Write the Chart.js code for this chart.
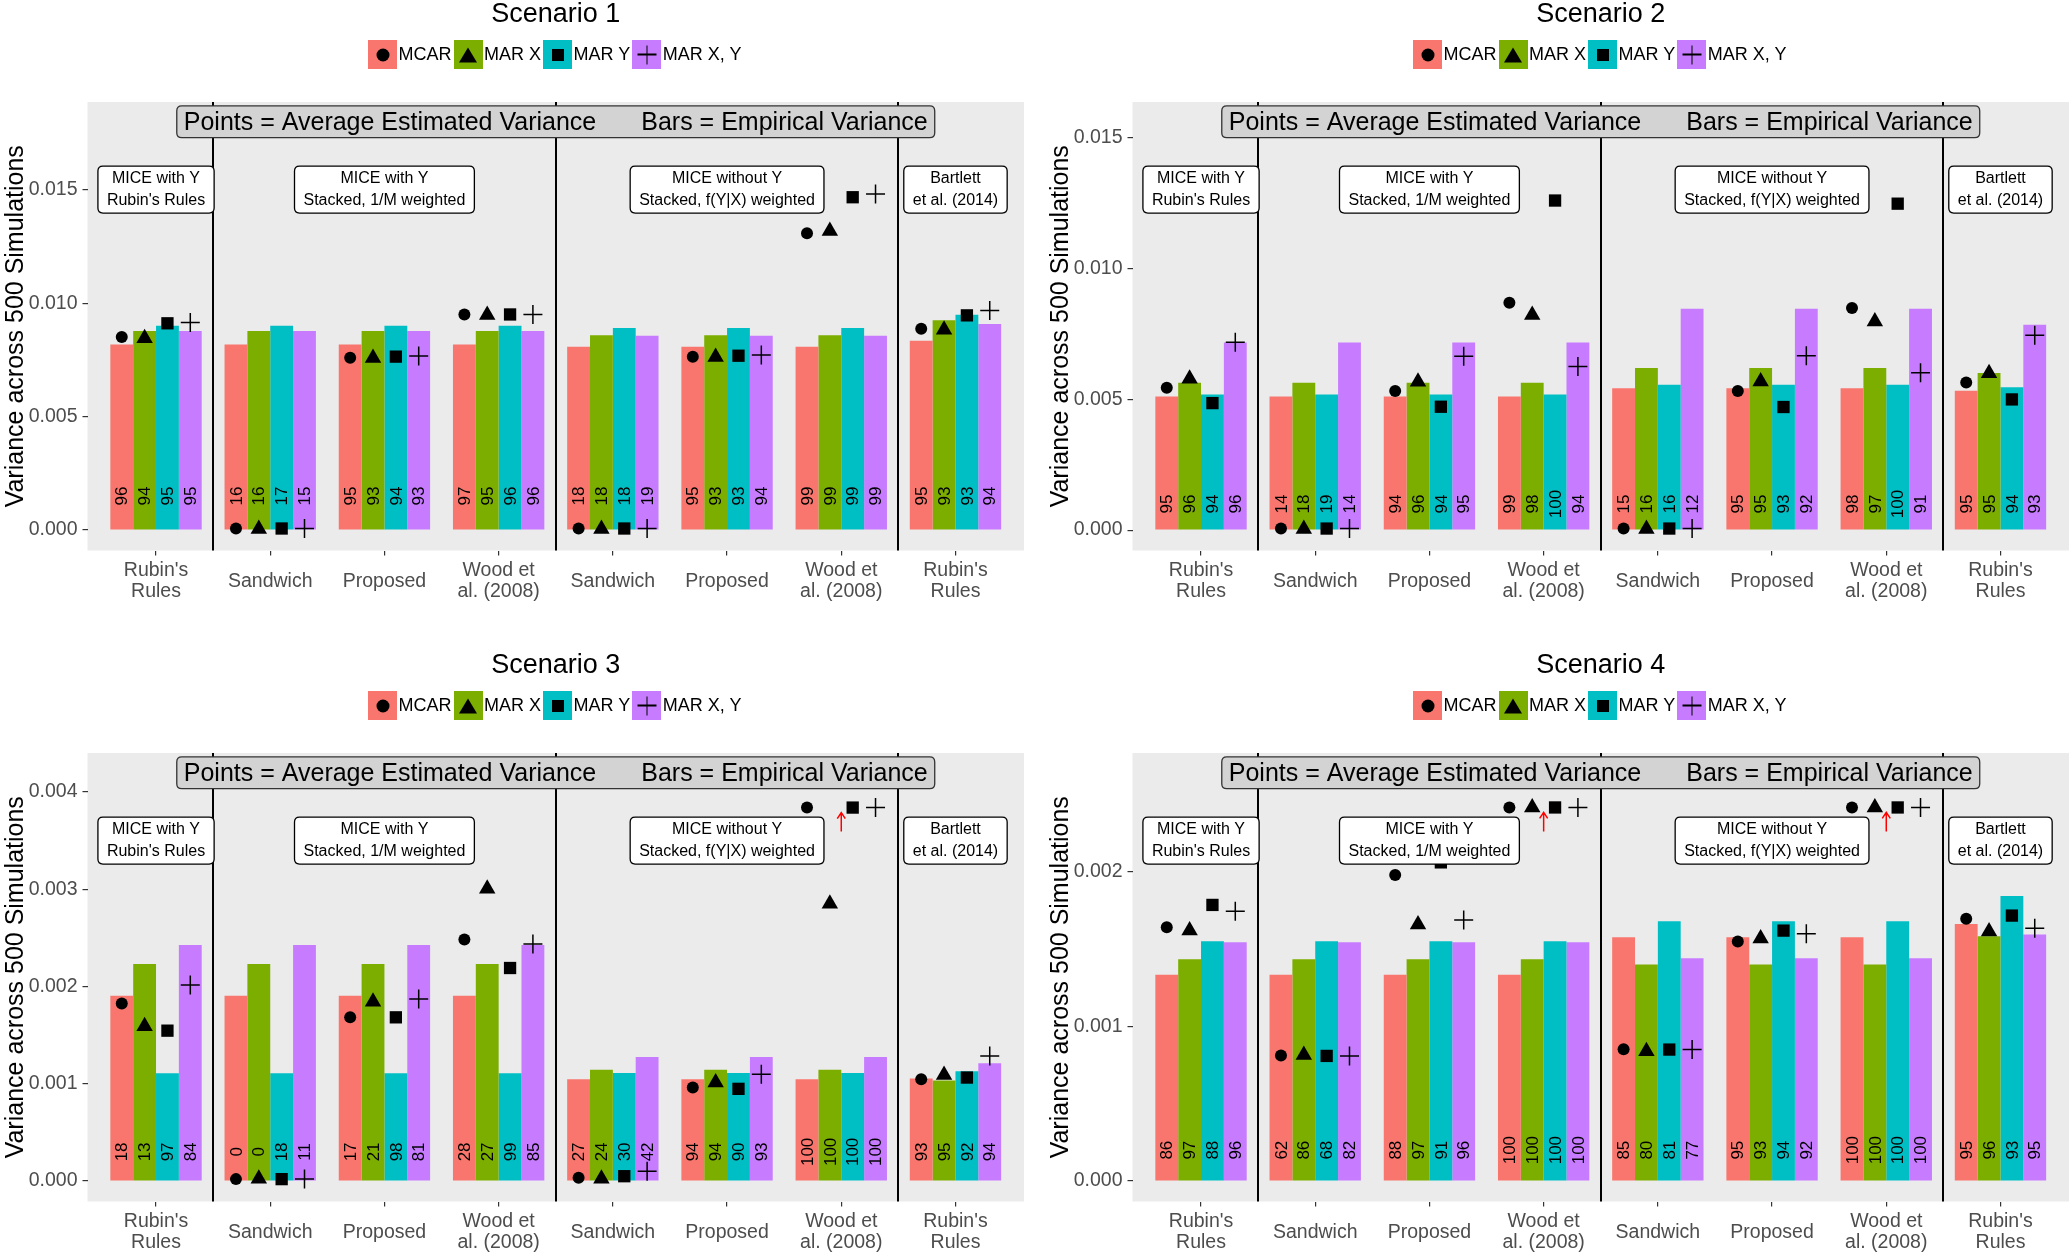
<!DOCTYPE html>
<html><head><meta charset="utf-8">
<script src="https://cdn.jsdelivr.net/npm/chart.js@4.4.1/dist/chart.umd.min.js"></script>
<style>
html,body{margin:0;padding:0;background:#fff;width:2070px;height:1255px;overflow:hidden;font-family:"Liberation Sans",Arial,sans-serif;}
.panel{position:absolute;width:1025px;height:604px;}
.panel canvas{position:absolute;left:0;top:0;}
.title{position:absolute;left:87.5px;width:936.5px;top:-1px;height:28px;line-height:28px;text-align:center;font-size:27px;color:#000;}
.legend{position:absolute;left:87.5px;width:936.5px;top:40px;height:29px;display:flex;justify-content:center;align-items:center;}
.key{width:29px;height:29px;position:relative;display:inline-block;}
.lt{font-size:18px;margin:0 2px 0 1.5px;line-height:29px;color:#000;}
.mk{position:absolute;left:50%;top:50%;transform:translate(-50%,-50%);}
.mk.circle{width:13px;height:13px;border-radius:50%;background:#000;}
.mk.triangle{width:0;height:0;border-left:9px solid transparent;border-right:9px solid transparent;border-bottom:15px solid #000;}
.mk.square{width:12px;height:12px;background:#000;}
.mk.plus{width:19px;height:19px;}
.mk.plus::before{content:'';position:absolute;left:0;top:8.75px;width:19px;height:1.5px;background:#000;}
.mk.plus::after{content:'';position:absolute;top:0;left:8.75px;height:19px;width:1.5px;background:#000;}
</style>
</head><body>
<script>
// ---------- shared labels ----------
const categories = [["Rubin's","Rules"],"Sandwich","Proposed",["Wood et","al. (2008)"],"Sandwich","Proposed",["Wood et","al. (2008)"],["Rubin's","Rules"]];
const seriesNames = ["MCAR","MAR X","MAR Y","MAR X, Y"];
const seriesColors = ["#F8766D","#7CAE00","#00BFC4","#C77CFF"];
const groupLabels = [["MICE with Y","Rubin's Rules"],["MICE with Y","Stacked, 1/M weighted"],["MICE without Y","Stacked, f(Y|X) weighted"],["Bartlett","et al. (2014)"]];
const groupSpans = [[1,1],[2,4],[5,7],[8,8]];
const boxTextLeft = "Points = Average Estimated Variance";
const boxTextRight = "Bars = Empirical Variance";
const yAxisTitle = "Variance across 500 Simulations";
const scenarioTitles = ["Scenario 1","Scenario 2","Scenario 3","Scenario 4"];

// ---------- Scenario 1 ----------
const s1Empirical = [
  [0.00818,0.00818,0.00818,0.00818,0.00809,0.00809,0.00809,0.00835],
  [0.00878,0.00878,0.00878,0.00878,0.00859,0.00859,0.00859,0.00925],
  [0.00901,0.00901,0.00901,0.00901,0.00891,0.00891,0.00891,0.00950],
  [0.00878,0.00878,0.00878,0.00878,0.00857,0.00857,0.00857,0.00909]];
const s1Estimated = [
  [0.00852,0.00007,0.00760,0.00951,0.00007,0.00765,0.01309,0.00888],
  [0.00846,0.00005,0.00759,0.00949,0.00005,0.00763,0.01319,0.00884],
  [0.00912,0.00007,0.00765,0.00951,0.00007,0.00769,0.01468,0.00947],
  [0.00916,0.00007,0.00768,0.00951,0.00007,0.00772,0.01482,0.00968]];
const s1Coverage = [
  [96,16,95,97,18,95,99,95],
  [94,16,93,95,18,93,99,93],
  [95,17,94,96,18,93,99,93],
  [95,15,93,96,19,94,99,94]];
const s1YTicks = [0,0.005,0.010,0.015];
const s1YRange = [-0.0009,0.01888];
const s1CoverageAt = 0.0015;
const s1OffScale = [];

// ---------- Scenario 2 ----------
const s2Empirical = [
  [0.00511,0.00511,0.00511,0.00511,0.00543,0.00543,0.00543,0.00533],
  [0.00564,0.00564,0.00564,0.00564,0.00620,0.00620,0.00620,0.00601],
  [0.00519,0.00519,0.00519,0.00519,0.00556,0.00556,0.00556,0.00547],
  [0.00718,0.00718,0.00718,0.00718,0.00847,0.00847,0.00847,0.00786]];
const s2Estimated = [
  [0.00545,0.00006,0.00532,0.00870,0.00006,0.00532,0.00850,0.00565],
  [0.00579,0.00004,0.00568,0.00823,0.00004,0.00569,0.00798,0.00600],
  [0.00486,0.00006,0.00472,0.01261,0.00006,0.00471,0.01249,0.00500],
  [0.00719,0.00006,0.00665,0.00626,0.00006,0.00667,0.00602,0.00746]];
const s2Coverage = [
  [95,14,94,99,15,95,98,95],
  [96,18,96,98,16,95,97,95],
  [94,19,94,100,16,93,100,94],
  [96,14,95,94,12,92,91,93]];
const s2YTicks = [0,0.005,0.010,0.015];
const s2YRange = [-0.00078,0.01638];
const s2CoverageAt = 0.001;
const s2OffScale = [];

// ---------- Scenario 3 ----------
const s3Empirical = [
  [0.001906,0.001906,0.001906,0.001906,0.001047,0.001047,0.001047,0.001054],
  [0.002230,0.002230,0.002230,0.002230,0.001143,0.001143,0.001143,0.001033],
  [0.001108,0.001108,0.001108,0.001108,0.001112,0.001112,0.001112,0.001129],
  [0.002426,0.002426,0.002426,0.002426,0.001276,0.001276,0.001276,0.001211]];
const s3Estimated = [
  [0.001824,0.000020,0.001683,0.002484,0.000034,0.000961,0.003839,0.001047],
  [0.001592,0.000024,0.001844,0.003004,0.000024,0.001013,0.002850,0.001091],
  [0.001546,0.000020,0.001683,0.002190,0.000050,0.000948,0.003839,0.001064],
  [0.002015,0.000020,0.001871,0.002436,0.000100,0.001098,0.003839,0.001286]];
const s3Coverage = [
  [18,0,17,28,27,94,100,93],
  [13,0,21,27,24,94,100,95],
  [97,18,98,99,30,90,100,92],
  [84,11,81,85,42,93,100,94]];
const s3YTicks = [0,0.001,0.002,0.003,0.004];
const s3YRange = [-0.00021,0.0044];
const s3CoverageAt = 0.0003;
const s3OffScale = [7];

// ---------- Scenario 4 ----------
const s4Empirical = [
  [0.001333,0.001333,0.001333,0.001333,0.001576,0.001576,0.001576,0.001662],
  [0.001434,0.001434,0.001434,0.001434,0.001400,0.001400,0.001400,0.001583],
  [0.001550,0.001550,0.001550,0.001550,0.001680,0.001680,0.001680,0.001843],
  [0.001544,0.001544,0.001544,0.001544,0.001441,0.001441,0.001441,0.001594]];
const s4Estimated = [
  [0.001641,0.000811,0.001978,0.002415,0.000852,0.001548,0.002415,0.001695],
  [0.001619,0.000815,0.001658,0.002415,0.000839,0.001568,0.002415,0.001613],
  [0.001785,0.000809,0.002060,0.002415,0.000850,0.001619,0.002415,0.001716],
  [0.001744,0.000809,0.001688,0.002415,0.000850,0.001598,0.002415,0.001634]];
const s4Coverage = [
  [86,62,88,100,85,95,100,95],
  [97,86,97,100,80,93,100,96],
  [88,68,91,100,81,94,100,93],
  [96,82,96,100,77,92,100,95]];
const s4YTicks = [0,0.001,0.002];
const s4YRange = [-0.000132,0.002767];
const s4CoverageAt = 0.0002;
const s4OffScale = [4,7];

// ---------- styling ----------
const FONT = '"Liberation Sans", Arial, sans-serif';
const pointStyles = ['circle','triangle','rect','cross'];
const pointRadii = [6,9.5,8.7,9.5];
const markerClasses = ['circle','triangle','square','plus'];
const dodgeWidth = 0.8;

function roundRect(ctx,x,y,w,h,r){
  ctx.beginPath();
  ctx.moveTo(x+r,y);ctx.lineTo(x+w-r,y);ctx.quadraticCurveTo(x+w,y,x+w,y+r);
  ctx.lineTo(x+w,y+h-r);ctx.quadraticCurveTo(x+w,y+h,x+w-r,y+h);
  ctx.lineTo(x+r,y+h);ctx.quadraticCurveTo(x,y+h,x,y+h-r);
  ctx.lineTo(x,y+r);ctx.quadraticCurveTo(x,y,x+r,y);ctx.closePath();
}

const overlay = {
  id:'overlay',
  beforeDraw(chart){
    const {ctx,chartArea:a}=chart;
    ctx.save();ctx.fillStyle='#ebebeb';ctx.fillRect(a.left,a.top,a.right-a.left,a.bottom-a.top);ctx.restore();
  },
  afterDatasetDraw(chart,args){
    const ds = chart.data.datasets[args.index];
    if(ds.type!=='bar') return;
    const o = chart.options.plugins.overlay;
    const {ctx}=chart; const y = chart.scales.y.getPixelForValue(o.coverageAt);
    ctx.save();ctx.fillStyle='#000';ctx.font='17px '+FONT;ctx.textAlign='center';ctx.textBaseline='middle';
    args.meta.data.forEach((bar,i)=>{
      ctx.save();ctx.translate(bar.x,y);ctx.rotate(-Math.PI/2);
      ctx.fillText(String(o.coverage[ds.seriesIdx][i]),0,1);ctx.restore();
    });
    ctx.restore();
  },
  afterDatasetsDraw(chart){
    const o = chart.options.plugins.overlay;
    const {ctx,chartArea:a}=chart; const xs=chart.scales.x, ys=chart.scales.y;
    ctx.save();
    // red arrows for off-scale estimates
    ctx.strokeStyle='#ff0000';ctx.lineWidth=1.5;
    o.offScale.forEach(c=>{
      const top = Math.max(...o.estimated.map(s=>s[c-1]));
      const x = xs.getPixelForValue(c); const yTip = ys.getPixelForValue(top)+5;
      ctx.beginPath();ctx.moveTo(x,yTip+19);ctx.lineTo(x,yTip);
      ctx.moveTo(x-4,yTip+6);ctx.lineTo(x,yTip);ctx.lineTo(x+4,yTip+6);ctx.stroke();
    });
    // separators
    ctx.strokeStyle='#000';ctx.lineWidth=2;
    for(let k=0;k<groupSpans.length-1;k++){
      const x = Math.round(xs.getPixelForValue((groupSpans[k][1]+groupSpans[k+1][0])/2));
      ctx.beginPath();ctx.moveTo(x,a.top);ctx.lineTo(x,a.bottom);ctx.stroke();
    }
    // group label boxes
    ctx.font='16px '+FONT;ctx.textAlign='center';ctx.textBaseline='middle';
    groupSpans.forEach((sp,g)=>{
      const xc = xs.getPixelForValue((sp[0]+sp[1])/2);
      const yc = a.top+87.6;
      const w = Math.max(...groupLabels[g].map(t=>ctx.measureText(t).width))+18;
      const h = 47;
      let x0 = Math.max(a.left+4, xc-w/2);
      roundRect(ctx,x0,yc-h/2,w,h,5);
      ctx.fillStyle='#fff';ctx.fill();ctx.strokeStyle='#000';ctx.lineWidth=1.3;ctx.stroke();
      ctx.fillStyle='#000';
      ctx.fillText(groupLabels[g][0],x0+w/2,yc-11.3);
      ctx.fillText(groupLabels[g][1],x0+w/2,yc+11.3);
    });
    // title box
    ctx.font='25px '+FONT;ctx.textAlign='left';
    const w1=ctx.measureText(boxTextLeft).width, w2=ctx.measureText(boxTextRight).width, gap=45;
    const tot=w1+gap+w2, xc=(a.left+a.right)/2, yc=a.top+19.8, bw=tot+14, bh=31.7;
    roundRect(ctx,xc-bw/2,yc-bh/2,bw,bh,5);
    ctx.fillStyle='#d3d3d3';ctx.fill();ctx.strokeStyle='#333';ctx.lineWidth=1.3;ctx.stroke();
    ctx.fillStyle='#000';
    ctx.fillText(boxTextLeft,xc-tot/2,yc+1);
    ctx.fillText(boxTextRight,xc-tot/2+w1+gap,yc+1);
    ctx.restore();
  }
};

function buildPanel(left,top,idx,empirical,estimated,coverage,yTicks,yRange,coverageAt,offScale){
  const div=document.createElement('div');div.className='panel';
  div.style.left=left+'px';div.style.top=top+'px';
  const cv=document.createElement('canvas');cv.width=1025;cv.height=604;div.appendChild(cv);
  const t=document.createElement('div');t.className='title';t.textContent=scenarioTitles[idx];div.appendChild(t);
  const lg=document.createElement('div');lg.className='legend';
  seriesNames.forEach((n,s)=>{
    const k=document.createElement('span');k.className='key';k.style.background=seriesColors[s];
    const m=document.createElement('i');m.className='mk '+markerClasses[s];k.appendChild(m);
    const lt=document.createElement('span');lt.className='lt';lt.textContent=n;
    lg.appendChild(k);lg.appendChild(lt);
  });
  div.appendChild(lg);
  document.body.appendChild(div);

  const datasets=[];
  estimated.forEach((vals,s)=>datasets.push({
    type:'scatter',label:seriesNames[s]+' estimated',order:1,seriesIdx:s,
    data:vals.map((v,i)=>({x:i+1+(s-1.5)*dodgeWidth/4,y:v})),
    pointStyle:pointStyles[s],pointRadius:pointRadii[s],pointBackgroundColor:'#000',pointBorderColor:'#000',
    pointBorderWidth:s===3?1.5:0,showLine:false,clip:false
  }));
  empirical.forEach((vals,s)=>datasets.push({
    type:'bar',label:seriesNames[s],order:2,seriesIdx:s,
    data:vals.map((v,i)=>({x:i+1,y:v})),
    backgroundColor:seriesColors[s],borderWidth:0,categoryPercentage:dodgeWidth,barPercentage:1
  }));
  const gridOpts={display:true,drawOnChartArea:false,drawTicks:true,tickLength:5,color:'#333',lineWidth:1.2,offset:false};
  new Chart(cv,{
    type:'bar',
    data:{datasets},
    options:{
      responsive:false,animation:false,events:[],
      layout:{autoPadding:false,padding:{left:0,top:102,right:1,bottom:0}},
      plugins:{legend:{display:false},tooltip:{enabled:false},title:{display:false},
        overlay:{coverage,coverageAt,offScale,estimated}},
      scales:{
        x:{type:'linear',min:0.4,max:8.6,offset:false,
          afterBuildTicks:ax=>{ax.ticks=categories.map((c,i)=>({value:i+1}));},
          afterFit:ax=>{ax.height=53.5;ax.paddingLeft=0;ax.paddingRight=0;},
          ticks:{callback:v=>categories[Math.round(v)-1],font:{family:FONT,size:19.5,lineHeight:1.1},color:'#4d4d4d',
            padding:15,maxRotation:0,minRotation:0,autoSkip:false,crossAlign:'center'},
          grid:gridOpts,border:{display:false}},
        y:{type:'linear',min:yRange[0],max:yRange[1],
          afterBuildTicks:ax=>{ax.ticks=yTicks.map(v=>({value:v}));},
          afterFit:ax=>{ax.width=87.5;ax.paddingTop=0;ax.paddingBottom=0;},
          ticks:{callback:v=>v.toFixed(3),font:{family:FONT,size:19.5},color:'#4d4d4d',padding:5},
          grid:gridOpts,border:{display:false},
          title:{display:true,text:yAxisTitle,font:{family:FONT,size:25},color:'#000',padding:{top:1,bottom:0}}}
      }
    },
    plugins:[overlay]
  });
}

buildPanel(0,0,0,s1Empirical,s1Estimated,s1Coverage,s1YTicks,s1YRange,s1CoverageAt,s1OffScale);
buildPanel(1045,0,1,s2Empirical,s2Estimated,s2Coverage,s2YTicks,s2YRange,s2CoverageAt,s2OffScale);
buildPanel(0,651,2,s3Empirical,s3Estimated,s3Coverage,s3YTicks,s3YRange,s3CoverageAt,s3OffScale);
buildPanel(1045,651,3,s4Empirical,s4Estimated,s4Coverage,s4YTicks,s4YRange,s4CoverageAt,s4OffScale);
</script>
</body></html>
